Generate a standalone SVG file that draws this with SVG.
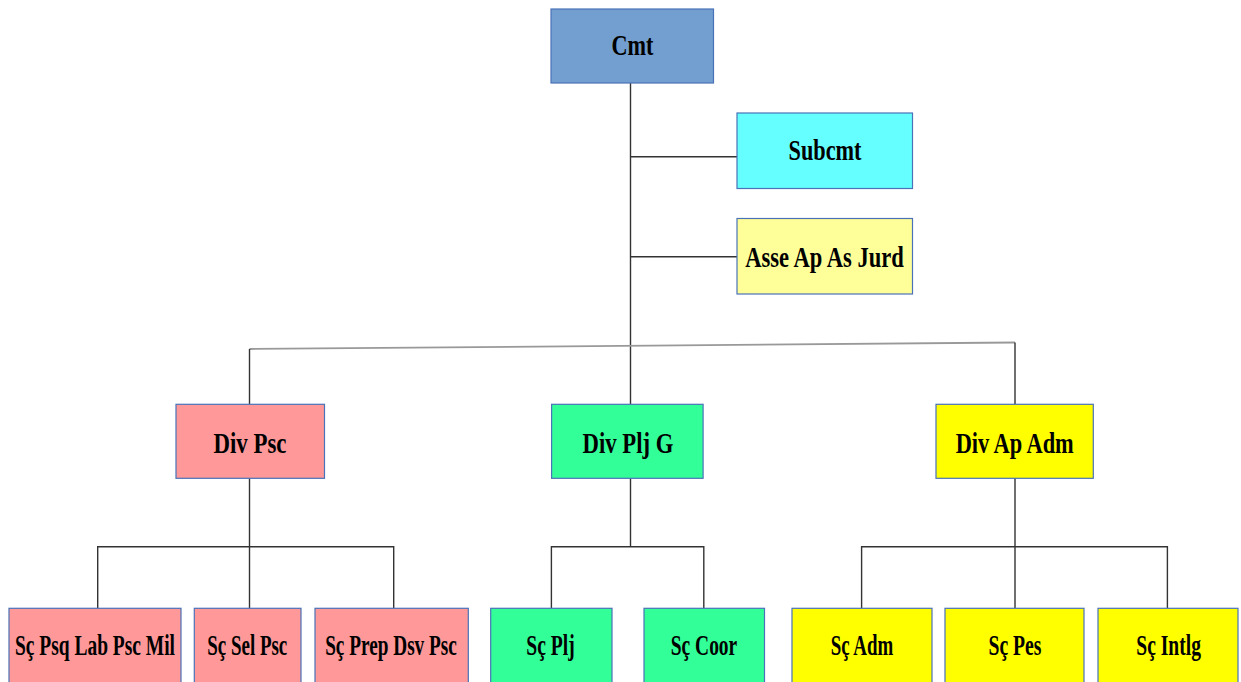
<svg xmlns="http://www.w3.org/2000/svg" width="1241" height="682" viewBox="0 0 1241 682">
<style>
.box{stroke:#4a72b8;stroke-width:1.2}
.t{font-family:"Liberation Serif","Times New Roman",serif;font-weight:bold;font-size:29px;fill:#000;text-anchor:middle}
.c{stroke:#333;stroke-width:1.4;fill:none}
</style>
<rect width="1241" height="682" fill="#fff"/>
<g id="connectors">
<line class="c" x1="630.5" y1="83" x2="630.5" y2="404"/>
<line class="c" x1="630.5" y1="156.7" x2="737" y2="156.7"/>
<line class="c" x1="630.5" y1="256.7" x2="737" y2="256.7"/>
<line x1="249.5" y1="349" x2="1015" y2="342.5" stroke="#999" stroke-width="1.8"/>
<line class="c" x1="249.5" y1="349" x2="249.5" y2="404"/>
<line class="c" x1="1015" y1="342.5" x2="1015" y2="404"/>
<line class="c" x1="249.5" y1="478" x2="249.5" y2="608"/>
<polyline class="c" points="97.7,608 97.7,546.7 393.7,546.7 393.7,608"/>
<line class="c" x1="630.5" y1="478" x2="630.5" y2="546.7"/>
<polyline class="c" points="551.4,608 551.4,546.7 703.8,546.7 703.8,608"/>
<line class="c" x1="1015" y1="478" x2="1015" y2="608"/>
<polyline class="c" points="861.6,608 861.6,546.7 1167.4,546.7 1167.4,608"/>
</g>
<g id="cmt"><rect class="box" x="551" y="9" width="162.5" height="74" fill="#729fcf"/><text class="t" transform="translate(632.5 55) scale(0.767 1)">Cmt</text></g>
<g id="subcmt"><rect class="box" x="737" y="113" width="175.5" height="75.5" fill="#66ffff"/><text class="t" transform="translate(825 160) scale(0.768 1)">Subcmt</text></g>
<g id="asse"><rect class="box" x="737" y="218.5" width="175.5" height="75.5" fill="#ffff99"/><text class="t" transform="translate(824.5 266.5) scale(0.778 1)">Asse Ap As Jurd</text></g>
<g id="div-psc"><rect class="box" x="176" y="404.3" width="148.5" height="74" fill="#ff9999"/><text class="t" transform="translate(250 453.3) scale(0.788 1)">Div Psc</text></g>
<g id="div-plj"><rect class="box" x="551.6" y="404.3" width="151.5" height="74" fill="#33ff99"/><text class="t" transform="translate(628 453.3) scale(0.784 1)">Div Plj G</text></g>
<g id="div-ap-adm"><rect class="box" x="936" y="404.3" width="157.3" height="74" fill="#ffff00"/><text class="t" transform="translate(1014.7 453.3) scale(0.772 1)">Div Ap Adm</text></g>
<g id="sc-psq"><rect class="box" x="9" y="608.3" width="172" height="80" fill="#ff9999"/><text class="t" transform="translate(95 655) scale(0.671 1)">Sç Psq Lab Psc Mil</text></g>
<g id="sc-sel"><rect class="box" x="194.3" y="608.3" width="106.7" height="80" fill="#ff9999"/><text class="t" transform="translate(247.3 655) scale(0.653 1)">Sç Sel Psc</text></g>
<g id="sc-prep"><rect class="box" x="315" y="608.3" width="153.3" height="80" fill="#ff9999"/><text class="t" transform="translate(391 655) scale(0.664 1)">Sç Prep Dsv Psc</text></g>
<g id="sc-plj"><rect class="box" x="490.7" y="608.3" width="121.3" height="80" fill="#33ff99"/><text class="t" transform="translate(550.5 655) scale(0.677 1)">Sç Plj</text></g>
<g id="sc-coor"><rect class="box" x="644" y="608.3" width="120.5" height="80" fill="#33ff99"/><text class="t" transform="translate(704 655) scale(0.671 1)">Sç Coor</text></g>
<g id="sc-adm"><rect class="box" x="792" y="608.3" width="140" height="80" fill="#ffff00"/><text class="t" transform="translate(862 655) scale(0.652 1)">Sç Adm</text></g>
<g id="sc-pes"><rect class="box" x="945" y="608.3" width="139" height="80" fill="#ffff00"/><text class="t" transform="translate(1015 655) scale(0.678 1)">Sç Pes</text></g>
<g id="sc-intlg"><rect class="box" x="1098" y="608.3" width="140" height="80" fill="#ffff00"/><text class="t" transform="translate(1168.6 655) scale(0.674 1)">Sç Intlg</text></g>
</svg>
